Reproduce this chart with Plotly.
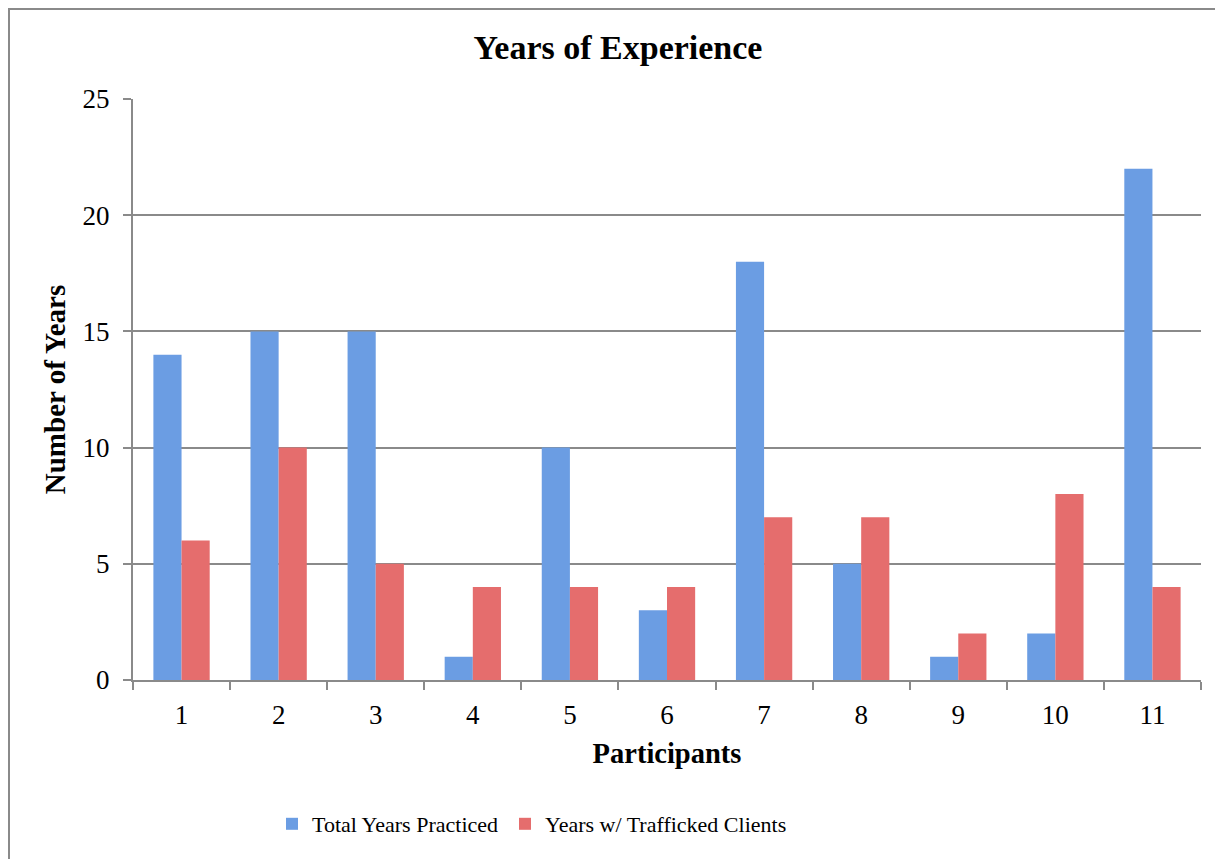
import plotly.graph_objects as go

participants = ["1", "2", "3", "4", "5", "6", "7", "8", "9", "10", "11"]
total_years = [14, 15, 15, 1, 10, 3, 18, 5, 1, 2, 22]
trafficked_years = [6, 10, 5, 4, 4, 4, 7, 7, 2, 8, 4]
series_names = ["Total Years Practiced", "Years w/ Trafficked Clients"]
y_ticks = [0, 5, 10, 15, 20, 25]

# page has an 8px body margin; figure coordinates are page coordinates minus 8
OFF = 8
W, H = 1223 - OFF, 859 - OFF
L, R, T, B = 133 - OFF, 22, 99 - OFF, 179

FONT = "Liberation Serif"
GRID = "#8a8a8a"

fig = go.Figure()
fig.add_trace(go.Bar(
    x=participants, y=total_years, name=series_names[0],
    marker=dict(color="#6b9de3", line=dict(width=0)), legend="legend",
))
fig.add_trace(go.Bar(
    x=participants, y=trafficked_years, name=series_names[1],
    marker=dict(color="#e56d6d", line=dict(width=0)), legend="legend2",
))

pw = W - L - R
ph = H - T - B
# outer chart border (left and top edges visible)
fig.add_shape(type="rect", xref="paper", yref="paper",
              x0=(1 - L) / pw, x1=(W + 20 - L) / pw,
              y0=(ph + T - (H + 20)) / ph, y1=(ph + T - 1) / ph,
              line=dict(color=GRID, width=2), fillcolor="rgba(0,0,0,0)", layer="below")

legend_common = dict(orientation="h", xanchor="left", yanchor="middle",
                     y=(ph - (824 - OFF - T)) / ph,
                     font=dict(family=FONT, size=22, color="black"),
                     itemwidth=30, bgcolor="rgba(0,0,0,0)")

fig.update_layout(
    width=W, height=H,
    margin=dict(l=L, r=R, t=T, b=B, autoexpand=False),
    paper_bgcolor="white", plot_bgcolor="white",
    barmode="group", bargap=0.42, bargroupgap=0.0,
    font=dict(family=FONT, color="black"),
    title=dict(text="<b>Years of Experience</b>", x=(618 - OFF) / W, xref="container",
               y=1 - (47 - OFF) / H, yref="container", xanchor="center", yanchor="middle",
               font=dict(family=FONT, size=34, color="black")),
    legend=dict(x=(272 - OFF - L) / pw, **legend_common),
    legend2=dict(x=(505 - OFF - L) / pw, **legend_common),
    showlegend=True,
)

fig.update_xaxes(
    type="category", showline=True, linecolor=GRID, linewidth=2,
    ticks="outside", tickson="boundaries", ticklen=8, tickcolor=GRID, tickwidth=2,
    tickfont=dict(family=FONT, size=27, color="black"), ticklabelstandoff=10,
    showgrid=False, zeroline=False,
    title=dict(text="<b>Participants</b>", font=dict(family=FONT, size=28.5, color="black"), standoff=14),
)
fig.update_yaxes(
    range=[0, 25], tickvals=y_ticks, showline=True, linecolor=GRID, linewidth=2,
    ticks="outside", ticklen=8, tickcolor=GRID, tickwidth=2,
    tickfont=dict(family=FONT, size=27, color="black"), ticklabelstandoff=8,
    showgrid=True, gridcolor=GRID, gridwidth=2, zeroline=False,
    title=dict(text="<b>Number of Years</b>", font=dict(family=FONT, size=29, color="black"), standoff=8),
)

fig.write_html("out.html")
